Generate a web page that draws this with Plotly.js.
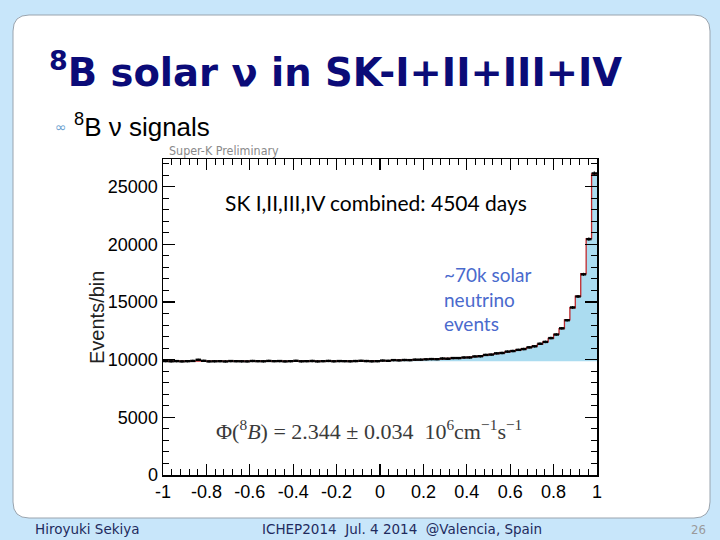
<!DOCTYPE html>
<html>
<head>
<meta charset="utf-8">
<script src="https://cdn.plot.ly/plotly-3.0.1.min.js"></script>
<style>html,body{margin:0;padding:0;background:#c8e6fa;}#chart{width:720px;height:540px;}</style>
</head>
<body>
<div id="chart"></div>
<script>
// ---- data ----
const histMin = -1, histMax = 1, nBins = 80;          // cos(theta_sun) binning
const backgroundLevel = 9870;                           // flat background events/bin
const fitTotal = [
 9870,9870,9870,9870,9870,9870,9870,9870,9870,9870,
 9870,9870,9870,9870,9870,9870,9870,9870,9870,9870,
 9870,9870,9870,9870,9870,9870,9870,9870,9870,9870,
 9870,9870,9870,9870,9870,9875,9880,9885,9890,9900,
 9910,9920,9935,9950,9965,9980,9995,10010,10025,10040,
 10060,10080,10100,10125,10150,10175,10210,10260,10320,10390,
 10460,10530,10600,10680,10760,10840,10930,11050,11170,11350,
 11550,11850,12200,12700,13450,14500,15500,17450,20500,26100
];
const dataCounts = [
 9880,9860,9875,9850,9870,9890,9990,9900,9850,9860,
 9870,9845,9880,9865,9860,9850,9885,9870,9860,9890,
 9870,9880,9850,9870,9900,9860,9870,9885,9850,9870,
 9890,9860,9880,9870,9860,9880,9900,9880,9860,9870,
 9920,9900,9960,9940,9970,9960,10000,10000,10030,10050,
 10040,10100,10080,10140,10140,10190,10190,10280,10300,10410,
 10440,10550,10580,10700,10750,10850,10920,11070,11160,11380,
 11540,11870,12180,12720,13420,14530,15480,17400,20450,26150
];
const xTickVals = [-1,-0.8,-0.6,-0.4,-0.2,0,0.2,0.4,0.6,0.8,1];
const xTickText = ["-1","-0.8","-0.6","-0.4","-0.2","0","0.2","0.4","0.6","0.8","1"];
const yTickVals = [0,5000,10000,15000,20000,25000];
const yTickText = ["0","5000","10000","15000","20000","25000"];

// ---- geometry helpers (layout only) ----
const L = 163, R = 597, T = 159, B = 475;
const px = x => (x - L) / (R - L);
const py = y => (B - y) / (B - T);

const binW = (histMax - histMin) / nBins;
const edges = [], centers = [];
for (let i = 0; i <= nBins; i++) edges.push(histMin + i * binW);
for (let i = 0; i < nBins; i++) centers.push(histMin + (i + 0.5) * binW);
const fitStep = fitTotal.concat([fitTotal[fitTotal.length - 1]]);

const traces = [
  { x: [histMin, histMax], y: [backgroundLevel, backgroundLevel], mode: 'lines',
    line: { width: 0 }, hoverinfo: 'skip', showlegend: false },
  { x: edges, y: fitStep, mode: 'lines', line: { shape: 'hv', color: '#c0282d', width: 1.3 },
    fill: 'tonexty', fillcolor: '#abdcf0', showlegend: false },
  { x: centers, y: dataCounts, mode: 'markers', marker: { size: 1, color: 'black' },
    error_x: { type: 'constant', value: binW / 2, color: 'black', thickness: 2.4, width: 0 },
    error_y: { type: 'sqrt', color: 'black', thickness: 1.2, width: 0 }, showlegend: false }
];

// rounded card path in paper coords
function roundRect(x0, y0, x1, y1, r) {
  const X = v => px(v), Y = v => py(v);
  return `M${X(x0 + r)},${Y(y0)} L${X(x1 - r)},${Y(y0)} Q${X(x1)},${Y(y0)} ${X(x1)},${Y(y0 + r)} ` +
         `L${X(x1)},${Y(y1 - r)} Q${X(x1)},${Y(y1)} ${X(x1 - r)},${Y(y1)} ` +
         `L${X(x0 + r)},${Y(y1)} Q${X(x0)},${Y(y1)} ${X(x0)},${Y(y1 - r)} ` +
         `L${X(x0)},${Y(y0 + r)} Q${X(x0)},${Y(y0)} ${X(x0 + r)},${Y(y0)} Z`;
}

const sans = 'Liberation Sans, Arial, sans-serif';
const layout = {
  width: 720, height: 540,
  margin: { l: L, r: 720 - R, t: T, b: 540 - B },
  paper_bgcolor: '#c8e6fa', plot_bgcolor: 'rgba(0,0,0,0)',
  showlegend: false,
  xaxis: {
    range: [histMin, histMax], tickmode: 'array', tickvals: xTickVals, ticktext: xTickText,
    ticks: 'inside', ticklen: 11, tickwidth: 1.2, tickcolor: 'black',
    showline: true, linecolor: 'black', linewidth: 1.5, mirror: 'ticks',
    showgrid: false, zeroline: false,
    minor: { tickmode: 'linear', tick0: -1, dtick: 0.04, ticks: 'inside', ticklen: 6, tickcolor: 'black', tickwidth: 1, showgrid: false },
    tickfont: { family: sans, size: 18, color: 'black' }
  },
  yaxis: {
    range: [0, 27400], tickmode: 'array', tickvals: yTickVals, ticktext: yTickText,
    ticks: 'inside', ticklen: 12, tickwidth: 1.2, tickcolor: 'black',
    showline: true, linecolor: 'black', linewidth: 1.5, mirror: 'ticks',
    showgrid: false, zeroline: false,
    minor: { tickmode: 'linear', tick0: 0, dtick: 1000, ticks: 'inside', ticklen: 6, tickcolor: 'black', tickwidth: 1, showgrid: false },
    tickfont: { family: sans, size: 18, color: 'black' }
  },
  shapes: [
    { type: 'path', xref: 'paper', yref: 'paper', layer: 'below',
      path: roundRect(13, 15, 710, 518, 16), fillcolor: 'white', line: { color: '#9aa4ae', width: 1 } }
  ],
  annotations: [
    { text: '<b><sup>8</sup>B solar ν in SK-I+II+III+IV</b>', x: px(47), y: py(70), xanchor: 'left', yanchor: 'middle',
      xref: 'paper', yref: 'paper', showarrow: false,
      font: { family: 'DejaVu Sans, Verdana, sans-serif', size: 38.5, color: '#0b0b78' } },
    { text: '∞', x: px(53), y: py(127), xanchor: 'left', yanchor: 'middle', xref: 'paper', yref: 'paper', showarrow: false,
      font: { family: 'DejaVu Sans', size: 14, color: '#6a9fd0' } },
    { text: '<sup>8</sup>B ν signals', x: px(72), y: py(125), xanchor: 'left', yanchor: 'middle', xref: 'paper', yref: 'paper', showarrow: false,
      font: { family: sans, size: 26, color: 'black' } },
    { text: 'Super-K Preliminary', x: px(167), y: py(150), xanchor: 'left', yanchor: 'middle', xref: 'paper', yref: 'paper', showarrow: false,
      font: { family: 'DejaVu Sans Condensed, DejaVu Sans', size: 12.4, color: '#8a8a8a' } },
    { text: 'Events/bin', x: px(97), y: py(318), xanchor: 'center', yanchor: 'middle', textangle: -90, xref: 'paper', yref: 'paper', showarrow: false,
      font: { family: sans, size: 20, color: '#222222' } },
    { text: 'SK I,II,III,IV combined: 4504 days', x: px(376), y: py(202), xanchor: 'center', yanchor: 'middle', xref: 'paper', yref: 'paper', showarrow: false,
      font: { family: 'Lato, sans-serif', size: 21, color: 'black' } },
    { text: '~70k solar<br>neutrino<br>events', x: px(442), y: py(299), xanchor: 'left', yanchor: 'middle', align: 'left', xref: 'paper', yref: 'paper', showarrow: false,
      font: { family: 'Lato, sans-serif', size: 19, color: '#4a6acd' } },
    { text: 'Φ(<sup>8</sup><i>B</i>) = 2.344 ± 0.034  10<sup>6</sup>cm<sup>−1</sup>s<sup>−1</sup>', x: px(369), y: py(430), xanchor: 'center', yanchor: 'middle', xref: 'paper', yref: 'paper', showarrow: false,
      font: { family: 'Liberation Serif, serif', size: 22, color: '#3a3a3a' } },
    { text: 'Hiroyuki Sekiya', x: px(33), y: py(529), xanchor: 'left', yanchor: 'middle', xref: 'paper', yref: 'paper', showarrow: false,
      font: { family: 'DejaVu Sans, sans-serif', size: 13.5, color: '#1f2b5e' } },
    { text: 'ICHEP2014  Jul. 4 2014  @Valencia, Spain', x: px(402), y: py(529), xanchor: 'center', yanchor: 'middle', xref: 'paper', yref: 'paper', showarrow: false,
      font: { family: 'DejaVu Sans, sans-serif', size: 13.5, color: '#1f2b5e' } },
    { text: '26', x: px(708), y: py(529), xanchor: 'right', yanchor: 'middle', xref: 'paper', yref: 'paper', showarrow: false,
      font: { family: 'DejaVu Sans Condensed, DejaVu Sans', size: 13, color: '#9a9a9a' } }
  ]
};

Plotly.newPlot('chart', traces, layout, { staticPlot: true, displayModeBar: false });
</script>
</body>
</html>
